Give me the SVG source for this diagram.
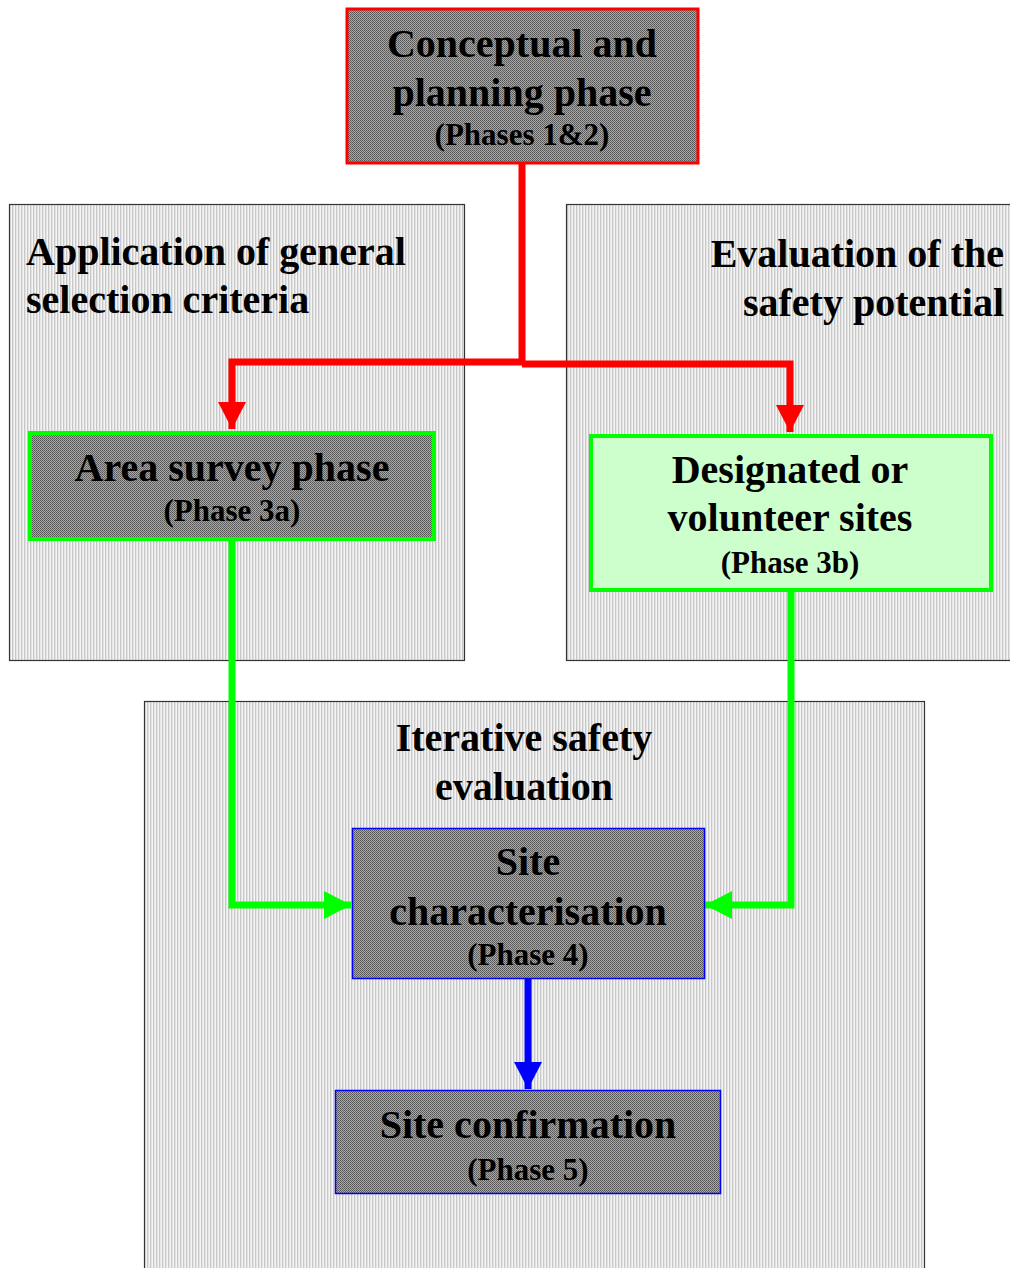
<svg xmlns="http://www.w3.org/2000/svg" width="1010" height="1268" viewBox="0 0 1010 1268">
<defs>
<pattern id="stripes" patternUnits="userSpaceOnUse" width="3" height="4">
<rect width="3" height="4" fill="#e4e4e4"/>
<rect x="0" width="1" height="4" fill="#c8c8c8"/>
<rect x="2" width="1" height="4" fill="#f4f4f4"/>
</pattern>
<pattern id="dots" patternUnits="userSpaceOnUse" width="2" height="2">
<rect width="2" height="2" fill="#a8a8a8"/>
<rect x="0" y="0" width="1" height="1" fill="#555555"/>
<rect x="1" y="1" width="1" height="1" fill="#666666"/>
</pattern>
<marker id="aRed" markerUnits="userSpaceOnUse" markerWidth="30" markerHeight="30" refX="27" refY="14" orient="auto">
<polygon points="0,0 27,14 0,28" fill="#ff0000"/>
</marker>
<marker id="aGreen" markerUnits="userSpaceOnUse" markerWidth="30" markerHeight="30" refX="27" refY="14" orient="auto">
<polygon points="0,0 27,14 0,28" fill="#00ff00"/>
</marker>
<marker id="aBlue" markerUnits="userSpaceOnUse" markerWidth="30" markerHeight="30" refX="27" refY="14" orient="auto">
<polygon points="0,0 27,14 0,28" fill="#0000ff"/>
</marker>
</defs>
<style>
text { font-family: "Liberation Serif", "Times New Roman", serif; font-weight: bold; fill: #000; }
.big { font-size: 40px; }
.small { font-size: 31px; }
.c { text-anchor: middle; }
.panel { fill: url(#stripes); stroke: #333; stroke-width: 1.2; }
.dark { fill: url(#dots); }
.conn { fill: none; stroke-width: 7; stroke-linejoin: miter; }
</style>
<rect width="1010" height="1268" fill="#ffffff"/>

<g id="panel-general">
<rect class="panel" x="9.5" y="204.5" width="455" height="456"/>
<text class="big" x="26" y="265">Application of general</text>
<text class="big" x="26" y="313">selection criteria</text>
</g>
<g id="panel-safety">
<rect class="panel" x="566.5" y="204.5" width="450" height="456"/>
<text class="big" x="1004" y="267" text-anchor="end">Evaluation of the</text>
<text class="big" x="1004" y="316" text-anchor="end">safety potential</text>
</g>
<g id="panel-iterative">
<rect class="panel" x="144.5" y="701.5" width="780" height="580"/>
<text class="big c" x="524" y="751">Iterative safety</text>
<text class="big c" x="524" y="800">evaluation</text>
</g>

<g id="connectors">
<path class="conn" stroke="#ff0000" d="M522,164 V362 H232 V429" marker-end="url(#aRed)"/>
<path class="conn" stroke="#ff0000" d="M522,364 H790 V432" marker-end="url(#aRed)"/>
<path class="conn" stroke="#00ff00" d="M232,540 V905 H351" marker-end="url(#aGreen)"/>
<path class="conn" stroke="#00ff00" d="M791,592 V905 H705" marker-end="url(#aGreen)"/>
<path class="conn" stroke="#0000ff" d="M528,979 V1089" marker-end="url(#aBlue)"/>
</g>

<g id="node-conceptual">
<rect class="dark" x="347" y="9" width="351" height="154" stroke="#ff0000" stroke-width="3"/>
<text class="big c" x="522" y="57">Conceptual and</text>
<text class="big c" x="522" y="106">planning phase</text>
<text class="small c" x="522" y="145">(Phases 1&amp;2)</text>
</g>
<g id="node-area">
<rect class="dark" x="30" y="433" width="404" height="106" stroke="#00ff00" stroke-width="4"/>
<text class="big c" x="232" y="481">Area survey phase</text>
<text class="small c" x="232" y="521">(Phase 3a)</text>
</g>
<g id="node-designated">
<rect x="591" y="436" width="400" height="154" fill="#ccffcc" stroke="#00ff00" stroke-width="4"/>
<text class="big c" x="790" y="483">Designated or</text>
<text class="big c" x="790" y="531">volunteer sites</text>
<text class="small c" x="790" y="573">(Phase 3b)</text>
</g>
<g id="node-characterisation">
<rect class="dark" x="352.5" y="828.5" width="352" height="150" stroke="#0000ff" stroke-width="1.5"/>
<text class="big c" x="528" y="875">Site</text>
<text class="big c" x="528" y="925">characterisation</text>
<text class="small c" x="528" y="965">(Phase 4)</text>
</g>
<g id="node-confirmation">
<rect class="dark" x="335.5" y="1090.5" width="385" height="103" stroke="#0000ff" stroke-width="1.5"/>
<text class="big c" x="528" y="1138">Site confirmation</text>
<text class="small c" x="528" y="1180">(Phase 5)</text>
</g>
</svg>
